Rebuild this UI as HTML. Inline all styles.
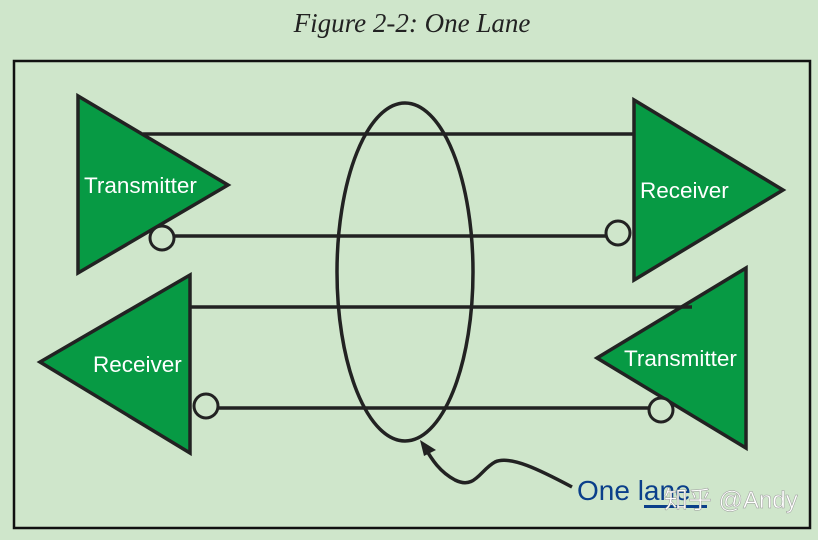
<!DOCTYPE html>
<html><head><style>body{margin:0;background:#cfe6cb;}svg{display:block}</style></head><body>
<svg width="818" height="540" viewBox="0 0 818 540">
<rect width="818" height="540" fill="#cfe6cb"/>
<text x="412" y="32" text-anchor="middle" font-family="Liberation Serif, serif" font-style="italic" font-size="27" fill="#222">Figure 2-2: One Lane</text>
<rect x="14" y="61" width="796" height="467" fill="none" stroke="#111" stroke-width="2.5"/>
<g stroke="#222" stroke-width="3.5" fill="#079a44">
<polygon points="78,96 78,273 228,185"/>
<polygon points="634,100 634,280 783,190"/>
<polygon points="190,275 190,453 40,362"/>
<polygon points="746,268 746,448 597,358"/>
</g>
<g stroke="#222" stroke-width="3.5" fill="none">
<line x1="143" y1="134" x2="634" y2="134"/>
<line x1="175" y1="236" x2="606" y2="236"/>
<line x1="190" y1="307" x2="692" y2="307"/>
<line x1="218" y1="408" x2="649" y2="408"/>
<ellipse cx="405" cy="272" rx="68" ry="169"/>
<path d="M572,487 C540,470 510,455 495,462 C480,470 475,490 455,480 C440,472 432,460 424,446"/>
</g>
<g stroke="#222" stroke-width="3" fill="#cfe6cb">
<circle cx="162" cy="238" r="12"/>
<circle cx="618" cy="233" r="12"/>
<circle cx="206" cy="406" r="12"/>
<circle cx="661" cy="410" r="12"/>
</g>
<polygon points="420,440 436,450 424,456" fill="#222"/>
<g font-family="Liberation Sans, sans-serif" font-size="22.5" fill="#fff">
<text x="84" y="193">Transmitter</text>
<text x="640" y="198">Receiver</text>
<text x="93" y="372">Receiver</text>
<text x="624" y="366">Transmitter</text>
</g>
<text x="577" y="500" font-family="Liberation Sans, sans-serif" font-size="28" fill="#0a3f8a">One lane</text>
<rect x="644" y="505" width="63" height="3" fill="#0a3f8a"/>
<text x="664" y="508" font-family="Liberation Sans, 'Noto Sans CJK SC', sans-serif" font-size="24" fill="#fff" stroke="#999" stroke-width="0.5">知乎 @Andy</text>
</svg>
</body></html>
